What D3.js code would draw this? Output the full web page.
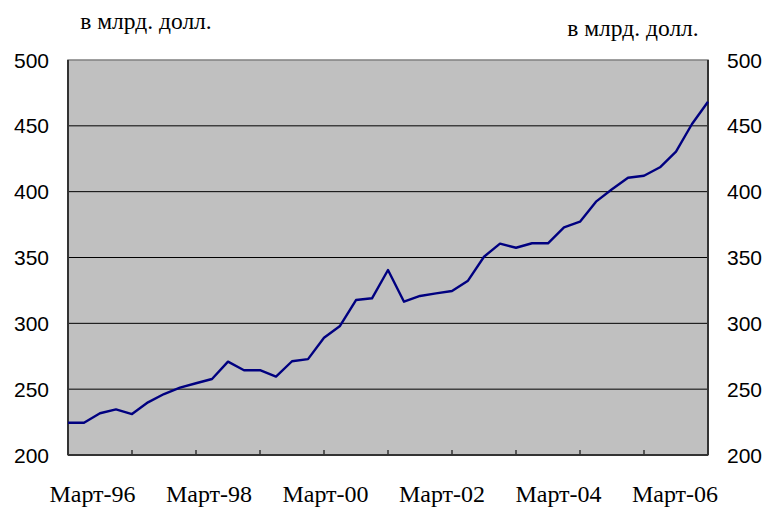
<!DOCTYPE html>
<html>
<head>
<meta charset="utf-8">
<script src="https://cdn.jsdelivr.net/npm/d3@7"></script>
<style>
  body { margin: 0; background: #ffffff; }
  svg { display: block; }
</style>
</head>
<body>
<svg id="chart" width="769" height="508"></svg>
<script>
// quarterly values, bn USD (Mar-96 ... Mar-06)
let values = [
    224.5, 224.5, 231.7, 234.6, 231.1, 240.0, 246.3, 251.1, 254.5, 257.7,
    270.9, 264.4, 264.4, 259.5, 271.2, 272.8, 289.1, 298.0, 317.7, 319.0,
    340.5, 316.4, 320.8, 322.8, 324.6, 332.4, 350.6, 360.5, 357.4, 360.8,
    360.8, 372.9, 377.2, 392.4, 401.8, 410.6, 412.1, 418.5, 430.4, 451.4,
    468.3
];
let xLabels = ['Март-96', 'Март-98', 'Март-00', 'Март-02', 'Март-04', 'Март-06'];
let yTicks = [200, 250, 300, 350, 400, 450, 500];
let unitLabel = 'в млрд. долл.';

function drawChart () {
    let svg = d3.select('#chart');
    let left = 68, right = 708, top = 60, bottom = 455;

    let x = d3.scaleLinear()
        .domain([0, values.length - 1])
        .range([left, right]);
    let y = d3.scaleLinear()
        .domain([200, 500])
        .range([bottom, top]);
    let xl = d3.scalePoint()
        .domain(xLabels)
        .range([92.5, 675]);

    // plot area
    svg.append('rect')
        .attr('x', left)
        .attr('y', top)
        .attr('width', right - left)
        .attr('height', bottom - top)
        .attr('fill', '#C0C0C0')
        .attr('stroke', '#808080')
        .attr('stroke-width', 1.5);

    // grid
    svg.selectAll('line.grid')
        .data(yTicks.slice(1, -1))
        .enter()
        .append('line')
        .attr('class', 'grid')
        .attr('x1', left)
        .attr('x2', right)
        .attr('y1', (d) => { return y(d); })
        .attr('y2', (d) => { return y(d); })
        .attr('stroke', '#000000')
        .attr('stroke-width', 1);

    // axes frame lines
    svg.append('line')
        .attr('x1', left).attr('x2', left)
        .attr('y1', top).attr('y2', bottom)
        .attr('stroke', '#333333').attr('stroke-width', 2);
    svg.append('line')
        .attr('x1', right).attr('x2', right)
        .attr('y1', top).attr('y2', bottom)
        .attr('stroke', '#333333').attr('stroke-width', 2);
    svg.append('line')
        .attr('x1', left).attr('x2', right)
        .attr('y1', bottom).attr('y2', bottom)
        .attr('stroke', '#333333').attr('stroke-width', 2);

    // category ticks every 4 quarters
    let tickIdx = d3.range(4, values.length, 4);
    svg.selectAll('line.xtick')
        .data(tickIdx)
        .enter()
        .append('line')
        .attr('class', 'xtick')
        .attr('x1', (d) => { return x(d); })
        .attr('x2', (d) => { return x(d); })
        .attr('y1', bottom)
        .attr('y2', bottom - 5)
        .attr('stroke', '#333333')
        .attr('stroke-width', 1.5);

    // series line
    let line = d3.line()
        .x((d, i) => { return x(i); })
        .y((d) => { return y(d); });
    svg.append('path')
        .datum(values)
        .attr('d', line)
        .attr('fill', 'none')
        .attr('stroke', '#000080')
        .attr('stroke-width', 2.4)
        .attr('stroke-linejoin', 'round');

    // y labels, both sides
    svg.selectAll('text.yl')
        .data(yTicks)
        .enter()
        .append('text')
        .attr('class', 'yl')
        .attr('x', 49)
        .attr('y', (d) => { return y(d); })
        .attr('dy', '0.36em')
        .attr('text-anchor', 'end')
        .attr('font-family', 'Liberation Sans, Arial, sans-serif')
        .attr('font-size', 21)
        .text((d) => { return d; });
    svg.selectAll('text.yr')
        .data(yTicks)
        .enter()
        .append('text')
        .attr('class', 'yr')
        .attr('x', 727)
        .attr('y', (d) => { return y(d); })
        .attr('dy', '0.36em')
        .attr('text-anchor', 'start')
        .attr('font-family', 'Liberation Sans, Arial, sans-serif')
        .attr('font-size', 21)
        .text((d) => { return d; });

    // x labels
    svg.selectAll('text.xl')
        .data(xLabels)
        .enter()
        .append('text')
        .attr('class', 'xl')
        .attr('x', (d) => { return xl(d); })
        .attr('y', 502)
        .attr('text-anchor', 'middle')
        .attr('font-family', 'Liberation Serif, Times New Roman, serif')
        .attr('font-size', 24)
        .text((d) => { return d; });

    // unit captions
    svg.append('text')
        .attr('x', 146)
        .attr('y', 29)
        .attr('text-anchor', 'middle')
        .attr('font-family', 'Liberation Serif, Times New Roman, serif')
        .attr('font-size', 23.5)
        .text(unitLabel);
    svg.append('text')
        .attr('x', 633)
        .attr('y', 36)
        .attr('text-anchor', 'middle')
        .attr('font-family', 'Liberation Serif, Times New Roman, serif')
        .attr('font-size', 23.5)
        .text(unitLabel);
}

drawChart();
</script>
</body>
</html>
